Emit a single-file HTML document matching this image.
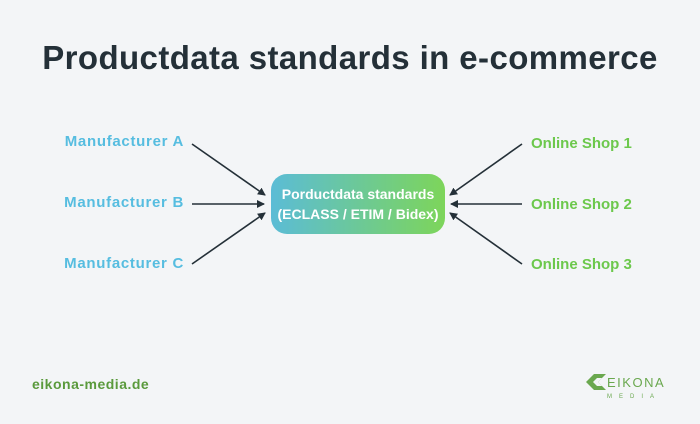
<!DOCTYPE html>
<html><head><style>
body{margin:0;width:700px;height:424px;background:#f3f5f7;font-family:"Liberation Sans",sans-serif;position:relative;overflow:hidden}
.t{position:absolute;white-space:nowrap;font-weight:bold}
</style></head><body>
<div class="t" style="left:0;width:700px;text-align:center;top:39px;font-size:33px;letter-spacing:0.4px;color:#243038">Productdata standards in e-commerce</div>
<div class="t" style="right:516px;top:133px;font-size:15px;letter-spacing:0.7px;color:#56bde0">Manufacturer A</div>
<div class="t" style="right:516px;top:194px;font-size:15px;letter-spacing:0.7px;color:#56bde0">Manufacturer B</div>
<div class="t" style="right:516px;top:255px;font-size:15px;letter-spacing:0.7px;color:#56bde0">Manufacturer C</div>
<div class="t" style="left:531px;top:135px;font-size:15px;color:#6cc84c">Online Shop 1</div>
<div class="t" style="left:531px;top:196px;font-size:15px;color:#6cc84c">Online Shop 2</div>
<div class="t" style="left:531px;top:256px;font-size:15px;color:#6cc84c">Online Shop 3</div>
<div style="position:absolute;left:271px;top:174px;width:174px;height:60px;border-radius:16px;background:linear-gradient(90deg,#5bbcd6,#7dd55a);color:#fff;font-weight:bold;font-size:14px;text-align:center;line-height:20px;display:flex;flex-direction:column;justify-content:center">
<div>Porductdata standards</div><div>(ECLASS / ETIM / Bidex)</div></div>
<svg width="700" height="424" style="position:absolute;left:0;top:0">
<defs><marker id="a" markerWidth="8" markerHeight="8" refX="7" refY="4" orient="auto" markerUnits="userSpaceOnUse"><path d="M0,0L8,4L0,8z" fill="#243038"/></marker></defs>
<g stroke="#243038" stroke-width="1.6" marker-end="url(#a)">
<line x1="192" y1="144" x2="265" y2="195"/>
<line x1="192" y1="204" x2="264" y2="204"/>
<line x1="192" y1="264" x2="265" y2="213"/>
<line x1="522" y1="144" x2="450" y2="195"/>
<line x1="522" y1="204" x2="451" y2="204"/>
<line x1="522" y1="264" x2="450" y2="213"/>
</g>
<g transform="translate(586,374)" fill="#6aa84f">
<path d="M0,8 L8,0 L20,0 L12,8 L20,16 L8,16 Z" />
<path d="M7,8 L11,4 L16,4 L12,8 L16,12 L11,12Z" fill="#f3f5f7"/>
</g>
<text x="607" y="387" font-size="13" fill="#6aa84f" font-family="Liberation Sans" letter-spacing="1.5">EIKONA</text>
<text x="607" y="398" font-size="6" fill="#6aa84f" font-family="Liberation Sans" letter-spacing="7">MEDIA</text>
</svg>
<div class="t" style="left:32px;top:376px;font-size:14px;letter-spacing:0.5px;color:#5a9a3c">eikona-media.de</div>
</body></html>
